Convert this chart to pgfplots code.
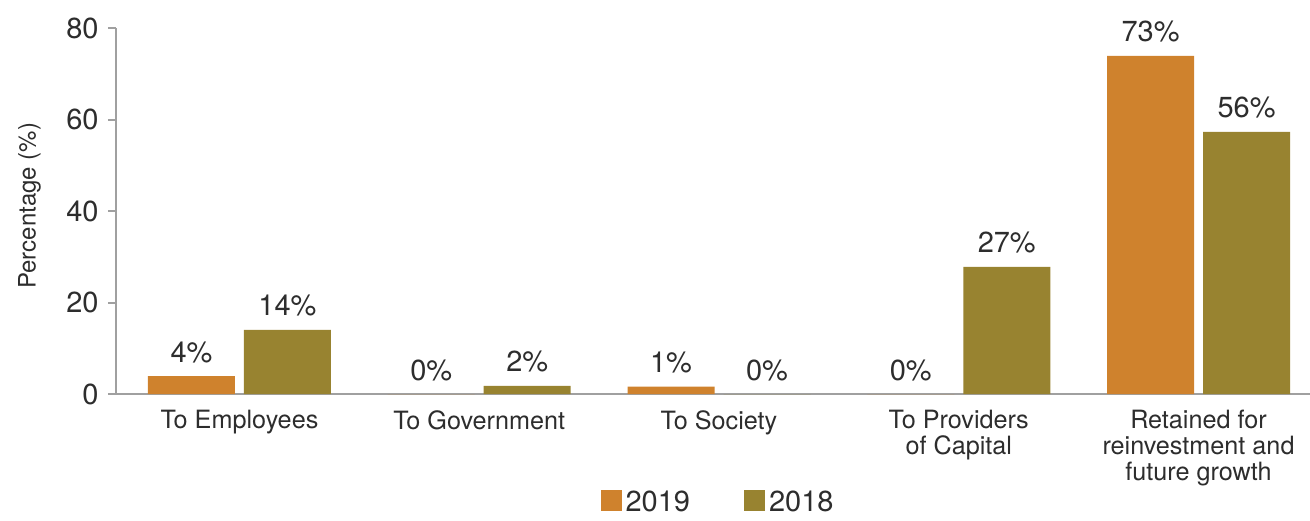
\documentclass[border=0pt]{standalone}
\usepackage{fontspec}
\setmainfont{TeX Gyre Heros}
\usepackage{pgfplots}
\usepackage{pgfplotstable}
\pgfplotsset{compat=1.18}
\definecolor{c19}{RGB}{207,130,45}
\definecolor{c18}{RGB}{152,131,48}
\definecolor{txt}{RGB}{45,45,45}
\definecolor{axg}{RGB}{160,160,160}

\pgfplotstableread{
x y lbl
0 3.9 4
1 0 0
2 1.6 1
3 0 0
4 73.9 73
}\dataA
\pgfplotstableread{
x y lbl
0 14.0 14
1 1.8 2
2 0 0
3 27.8 27
4 57.3 56
}\dataB

\begin{document}
\begin{tikzpicture}
\path[use as bounding box] (-58pt,-63pt) rectangle (597pt,197pt);
\begin{axis}[
  scale only axis,
  width=597pt, height=183pt,
  ybar=4.5pt, bar width=43.5pt,
  xmin=-0.515, xmax=4.465,
  ymin=0, ymax=80,
  ytick={0,20,40,60,80},
  xtick={0,1,2,3,4},
  xticklabels={To Employees, To Government, To Society, {To Providers\\of Capital}, {Retained for\\reinvestment and\\future growth}},
  axis x line=bottom, axis y line=left,
  axis line style={draw=axg, line width=1pt, -},
  y tick style={draw=axg, line width=1pt},
  x tick style={draw=none},
  major tick length=4pt,
  tick align=outside,
  /pgf/number format/assume math mode=true,
  yticklabel style={font=\fontsize{14.5}{14.5}\selectfont, text=txt, inner sep=4.5pt},
  xticklabel style={font=\fontsize{12.6}{13}\selectfont, text=txt, align=center, inner sep=0pt, anchor=north, yshift=-4pt},
  ylabel={Percentage (\%)},
  every axis y label/.style={at={(axis description cs:-0.0724,0.514)}, rotate=90, anchor=center, font=\fontsize{12}{12}\selectfont, text=txt},
  nodes near coords={\pgfplotspointmeta\%},
  point meta=explicit symbolic,
  every node near coord/.append style={font=\fontsize{14.5}{14.5}\selectfont, text=txt, anchor=south, inner sep=0pt, yshift=6.5pt},
  legend columns=2,
  legend style={at={(axis description cs:0.5,0)}, anchor=north, yshift=-48pt, xshift=3pt, draw=none, fill=none, font=\fontsize{14.5}{14.5}\selectfont, text=txt, inner sep=0pt, nodes={inner xsep=2pt, inner ysep=0pt, text depth=0pt}, /tikz/every even column/.append style={column sep=25pt}},
  clip=false,
]
\addplot[fill=c19, draw=none, legend image code/.code={\fill[c19] (0pt,-5.25pt) rectangle (10.5pt,5.25pt);}] table[x=x,y=y,meta=lbl]{\dataA};
\addplot[fill=c18, draw=none, legend image code/.code={\fill[c18] (0pt,-5.25pt) rectangle (10.5pt,5.25pt);}] table[x=x,y=y,meta=lbl]{\dataB};
\legend{2019,2018}
\end{axis}
\end{tikzpicture}
\end{document}
